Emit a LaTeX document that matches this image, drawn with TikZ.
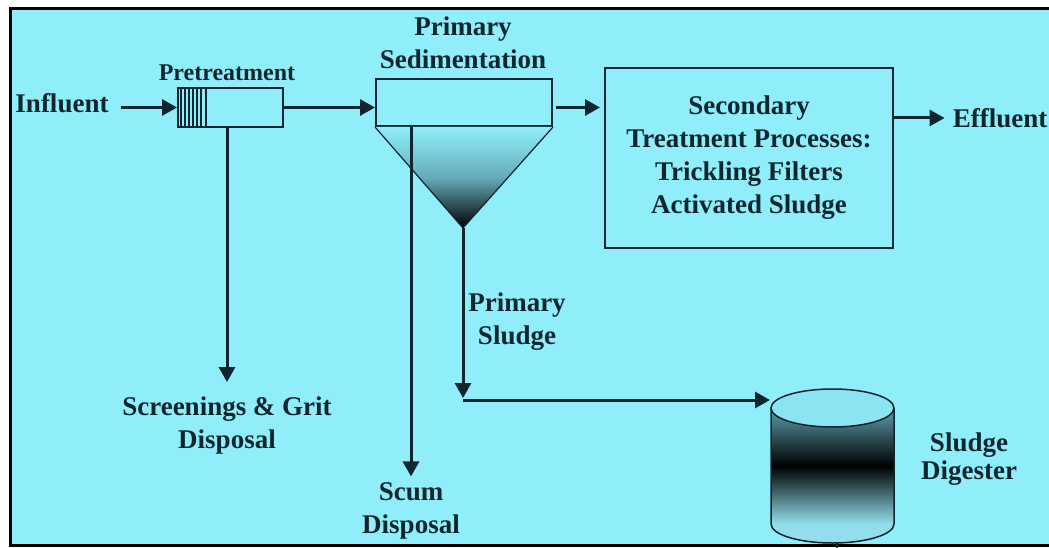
\documentclass[tikz,border=0pt]{standalone}
\usepackage{fontspec}
\setmainfont{Liberation Serif}
\usepackage{xcolor}
\usetikzlibrary{arrows.meta}
\definecolor{bgcyan}{RGB}{144,238,251}
\definecolor{ink}{RGB}{16,38,46}
\definecolor{conemid}{RGB}{100,172,184}
\definecolor{tankteal}{RGB}{92,160,172}
\definecolor{tanklight}{RGB}{146,222,236}
\definecolor{tanktop}{RGB}{140,228,242}
\tikzset{
  lbl/.style={font=\fontsize{27}{33}\selectfont\bfseries, text=ink, align=center, inner sep=0pt},
  flow/.style={line width=3pt, draw=ink, -{Triangle[length=15pt,width=16pt]}},
  unit/.style={draw=ink, line width=2pt, fill=bgcyan, inner sep=0pt},
}

\begin{document}
\begin{tikzpicture}[x=1pt,y=-1pt]
\clip (0,0) rectangle (1049,548);
\fill[white] (0,0) rectangle (1049,548);
\draw[fill=bgcyan, draw=black, line width=3pt] (10,9) rectangle (1070,545);

\node[lbl] (influent) at (62,103) {Influent};
\node[unit, minimum width=105pt, minimum height=39pt] (pre) at (230.5,107.5) {};
\foreach \i in {4,8,...,24}
    \draw[ink, line width=1.6pt] ([xshift=\i pt]pre.south west) -- ([xshift=\i pt]pre.north west);
\draw[ink, line width=2pt] ([xshift=29pt]pre.south west) -- ([xshift=29pt]pre.north west);
\node[lbl, font=\fontsize{24}{28}\selectfont\bfseries] (pretlbl) at (227,73) {Pretreatment};

\node[unit, minimum width=176pt, minimum height=47pt] (sed) at (464,102.5) {};
\coordinate (apex) at (463,228);
\shade[top color=bgcyan, bottom color=black, middle color=conemid] (sed.south west) -- (sed.south east) -- (apex) -- cycle;
\draw[ink, line width=1.2pt] (sed.south west) -- (apex) -- (sed.south east);
\node[lbl] (sedlbl) at (463,43) {Primary\\Sedimentation};

\node[unit, lbl, minimum width=288pt, minimum height=180pt] (sec) at (749,158) {Secondary\\Treatment Processes:\\Trickling Filters\\Activated Sludge};
\node[lbl] (effluent) at (1000,118) {Effluent};

\node[lbl] (screen) at (227,426) {Screenings \& Grit\\Disposal};
\node[lbl] (scum) at (411,511) {Scum\\Disposal};
\node[lbl] (pslbl) at (517,322) {Primary\\Sludge};
\node[lbl, font=\fontsize{27}{28}\selectfont\bfseries] (diglbl) at (969,459) {Sludge\\Digester};

\fill[tanklight] (771,524) arc[start angle=180, end angle=0, x radius=61.5, y radius=19] -- cycle;
\shade[top color=tankteal, bottom color=tanklight, middle color=black] (771,408) rectangle (894,524);
\draw[ink, line width=1.5pt] (771,408) -- (771,524) arc[start angle=180, end angle=0, x radius=61.5, y radius=19] -- (894,408);
\filldraw[fill=tanktop, draw=ink, line width=1.5pt] (832.5,408) ellipse [x radius=61.5, y radius=19];
\draw[ink, line width=2pt] (837,543) -- (837,548);
\coordinate (digin) at (771,400);
\coordinate (bend) at (463,400);

\draw[flow, shorten <=12pt] (pre.west -| influent.east) -- (pre.west);
\draw[flow] (pre.east) -- (pre.east -| sed.west);
\draw[flow, shorten <=3pt, shorten >=4pt] (pre.east -| sed.east) -- (pre.east -| sec.west);
\draw[flow, shorten >=8pt] (sec.east |- effluent.west) -- (effluent.west);
\draw[flow, shorten >=15pt] (screen.north |- pre.south) -- (screen.north);
\draw[flow, shorten >=6pt] (scum.north |- sed.south) -- (scum.north);
\draw[flow, shorten >=2pt] (apex) -- (bend);
\draw[flow, shorten >=1pt] (bend) -- (digin);
\end{tikzpicture}
\end{document}
